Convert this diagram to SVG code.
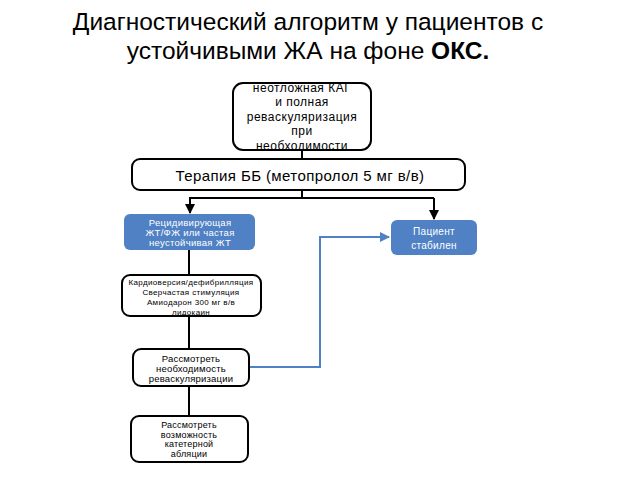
<svg xmlns="http://www.w3.org/2000/svg" width="640" height="480" viewBox="0 0 640 480">
<defs>
<style>
.t{font-family:"Liberation Sans",Arial,sans-serif;text-anchor:middle;fill:#000}
.w{font-family:"Liberation Sans",Arial,sans-serif;text-anchor:middle;fill:#fff}
.box{fill:#fff;stroke:#000;stroke-width:2}
.blue{fill:#4f81c4;stroke:none}
.ln{stroke:#000;stroke-width:2;fill:none}
.bl{stroke:#4f81c4;stroke-width:2;fill:none}
</style>
<marker id="ah" viewBox="0 0 10 10" refX="9" refY="5" markerWidth="5" markerHeight="5" orient="auto" markerUnits="strokeWidth"><path d="M0,0 L10,5 L0,10 z" fill="#000"/></marker>
<marker id="ahb" viewBox="0 0 10 10" refX="9" refY="5" markerWidth="5" markerHeight="5" orient="auto" markerUnits="strokeWidth"><path d="M0,0 L10,5 L0,10 z" fill="#4f81c4"/></marker>
<clipPath id="c1"><rect x="233" y="84" width="138" height="66"/></clipPath>
</defs>
<rect width="640" height="480" fill="#fff"/>
<g id="title">
<text class="t" x="308" y="30" font-size="24.5">Диагностический алгоритм у пациентов с</text>
<text class="t" x="308" y="59" font-size="24.5">устойчивыми ЖА на фоне <tspan font-weight="bold">ОКС.</tspan></text>
</g>
<g id="connectors">
<line class="ln" x1="302" y1="150" x2="302" y2="159"/>
<line class="ln" x1="302" y1="190" x2="302" y2="198"/>
<line class="ln" x1="189" y1="198" x2="434" y2="198"/>
<line class="ln" x1="190" y1="198" x2="190" y2="213" marker-end="url(#ah)"/>
<line class="ln" x1="434" y1="198" x2="434" y2="219" marker-end="url(#ah)"/>
<line class="ln" x1="189" y1="250" x2="189" y2="275"/>
<line class="ln" x1="189" y1="316" x2="189" y2="349"/>
<line class="ln" x1="189" y1="386" x2="189" y2="416"/>
<polyline class="bl" points="249,367 320,367 320,237 389,237" marker-end="url(#ahb)"/>
</g>
<g id="n1">
<g clip-path="url(#c1)">
<text class="t" x="302" y="92" font-size="12" letter-spacing="0.5">неотложная КАГ</text>
<text class="t" x="302" y="106" font-size="12" letter-spacing="0.5">и полная</text>
<text class="t" x="302" y="121" font-size="12" letter-spacing="0.5">реваскуляризация</text>
<text class="t" x="302" y="135" font-size="12" letter-spacing="0.5">при</text>
<text class="t" x="302" y="150" font-size="12" letter-spacing="0.5">необходимости</text>
</g>
<rect x="233" y="83" width="138" height="67" rx="10" fill="none" stroke="#000" stroke-width="2"/>
</g>
<g id="n2">
<rect class="box" x="132" y="159" width="333" height="31" rx="8"/>
<text class="t" x="300" y="181" font-size="15" letter-spacing="0.4">Терапия ББ (метопролол 5 мг в/в)</text>
</g>
<g id="n3">
<rect class="blue" x="124" y="214" width="131" height="36" rx="6"/>
<text class="w" x="190" y="226" font-size="9.5" letter-spacing="0.3">Рецидивирующая</text>
<text class="w" x="190" y="236" font-size="9.5" letter-spacing="0.3">ЖТ/ФЖ или частая</text>
<text class="w" x="190" y="246" font-size="9.5" letter-spacing="0.3">неустойчивая ЖТ</text>
</g>
<g id="n4">
<rect class="blue" x="391" y="220" width="86" height="35" rx="6"/>
<text class="w" x="434" y="235" font-size="10" letter-spacing="0.3">Пациент</text>
<text class="w" x="434" y="249" font-size="10" letter-spacing="0.3">стабилен</text>
</g>
<g id="n5">
<rect class="box" x="122" y="275" width="139" height="41" rx="8"/>
<text class="t" x="191" y="285" font-size="8" letter-spacing="0.35">Кардиоверсия/дефибрилляция</text>
<text class="t" x="191" y="295" font-size="8" letter-spacing="0.35">Сверчастая стимуляция</text>
<text class="t" x="191" y="305" font-size="8" letter-spacing="0.35">Амиодарон 300 мг в/в</text>
<text class="t" x="191" y="315" font-size="8" letter-spacing="0.35">лидокаин</text>
</g>
<g id="n6">
<rect class="box" x="133" y="349" width="116" height="37" rx="8"/>
<text class="t" x="191" y="362" font-size="9.5" letter-spacing="0.2">Рассмотреть</text>
<text class="t" x="191" y="372" font-size="9.5" letter-spacing="0.2">необходимость</text>
<text class="t" x="191" y="382" font-size="9.5" letter-spacing="0.2">реваскуляризации</text>
</g>
<g id="n7">
<rect class="box" x="131" y="416" width="117" height="46" rx="8"/>
<text class="t" x="189" y="428" font-size="9" letter-spacing="0.2">Рассмотреть</text>
<text class="t" x="189" y="437.5" font-size="9" letter-spacing="0.2">возможность</text>
<text class="t" x="189" y="447" font-size="9" letter-spacing="0.2">катетерной</text>
<text class="t" x="189" y="456.5" font-size="9" letter-spacing="0.2">абляции</text>
</g>
</svg>
